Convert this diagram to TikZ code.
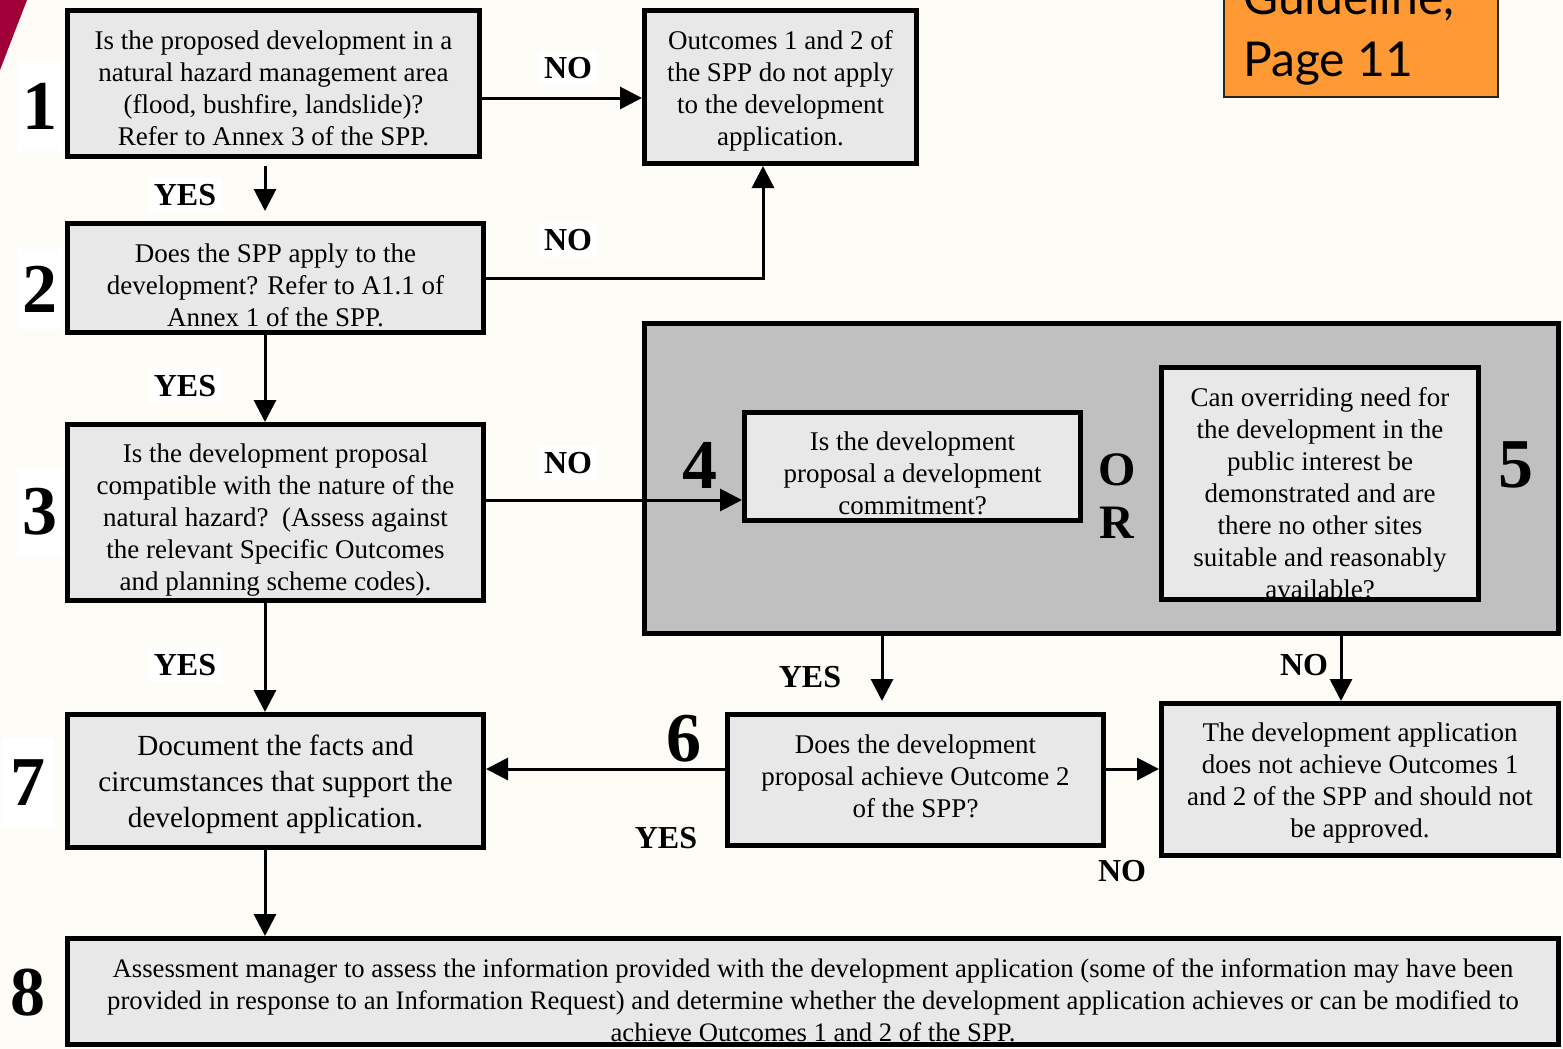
\documentclass[tikz,border=0pt]{standalone}
\usepackage{fontspec}
\setmainfont{Liberation Serif}
\newfontfamily\comicfont{Lato}
\usetikzlibrary{arrows.meta,calc}
\definecolor{bgcream}{RGB}{253,252,246}
\definecolor{boxgray}{RGB}{232,232,232}
\definecolor{panelgray}{RGB}{192,192,192}
\definecolor{guideorange}{RGB}{255,153,51}
\definecolor{crimsonred}{RGB}{160,0,55}
\tikzset{
  qbox/.style={draw=black, line width=2.5pt, fill=boxgray, inner sep=0pt},
  qtext/.style={align=center, inner sep=0pt, font=\fontsize{13.5}{16}\selectfont},
  numlab/.style={font=\bfseries\fontsize{35}{35}\selectfont, inner sep=1pt},
  ynlab/.style={font=\bfseries\fontsize{16}{16}\selectfont, fill=white, inner sep=3pt},
  arr/.style={line width=1.5pt, -{Triangle[length=11pt,width=11pt]}}
}
\begin{document}
\begin{tikzpicture}[x=0.5pt,y=-0.5pt]
\useasboundingbox (0,0) rectangle (1563,1049);
\fill[bgcream] (0,0) rectangle (1563,1049);
\fill[crimsonred] (0,0) -- (27,0) -- (0,70) -- cycle;

% column coordinates
\coordinate (colx) at (265,0);
\coordinate (c882) at (882,0);
\coordinate (c1341) at (1341,0);

% step numbers with white patches (drawn first)
\node[numlab, fill=white, minimum width=23pt, minimum height=45pt] (n1) at (40,106) {1};
\node[numlab, fill=white, minimum width=23pt, minimum height=40pt] (n2) at (40,289) {2};
\node[numlab, fill=white, minimum width=23pt, minimum height=45pt] (n3) at (40,512) {3};
\node[numlab, fill=white, minimum width=26pt, minimum height=45pt] (n7) at (28,783) {7};

% orange guideline box
\node[draw=black!85, line width=1pt, fill=guideorange, minimum width=137pt, minimum height=68pt, inner sep=0pt] (guide) at (1361,29) {};
\node[anchor=base west, inner sep=0pt, font=\comicfont\fontsize{24}{24}\selectfont] (gl1) at (1243,14) {Guideline,};
\node[anchor=base west, inner sep=0pt, font=\comicfont\fontsize{24}{24}\selectfont] (gl2) at (1243,76) {Page 11};

% grey panel
\node[draw=black, line width=2.5pt, fill=panelgray, minimum width=457pt, minimum height=155pt, inner sep=0pt] (panel) at (1101.5,478.5) {};

% boxes
\node[qbox, minimum width=206pt, minimum height=73pt] (b1) at (273.5,83.5) {};
\node[qtext] (b1t) at (273.5,88)
  {Is the proposed development in a\\natural hazard management area\\(flood, bushfire, landslide)?\\Refer to Annex 3 of the SPP.};
\node[qbox, minimum width=136pt, minimum height=76.5pt] (out) at (780.5,87) {};
\node[qtext] (outt) at (780.5,91)
  {Outcomes 1 and 2 of\\the SPP do not apply\\to the development\\application.};
\node[qbox, minimum width=208pt, minimum height=54.5pt] (b2) at (275.5,278) {};
\node[qtext] (b2t) at (275.5,285)
  {Does the SPP apply to the\\development? Refer to A1.1 of\\Annex 1 of the SPP.};
\node[qbox, minimum width=208pt, minimum height=88pt] (b3) at (275.5,512.5) {};
\node[qtext] (b3t) at (275.5,520.5)
  {Is the development proposal\\compatible with the nature of the\\natural hazard?~~(Assess against\\the relevant Specific Outcomes\\and planning scheme codes).};
\node[qbox, minimum width=168pt, minimum height=54pt] (b4) at (912.5,466.5) {};
\node[qtext] (b4t) at (912.5,473.5)
  {Is the development\\proposal a development\\commitment?};
\node[qbox, minimum width=158.5pt, minimum height=116pt] (b5) at (1320,483.5) {};
\node[qtext] (b5t) at (1320,493)
  {Can overriding need for\\the development in the\\public interest be\\demonstrated and are\\there no other sites\\suitable and reasonably\\available?};
\node[qbox, minimum width=188pt, minimum height=65.5pt] (b6) at (915.5,780) {};
\node[qtext] (b6t) at (915.5,776)
  {Does the development\\proposal achieve Outcome 2\\of the SPP?};
\node[qbox, minimum width=198.5pt, minimum height=76pt] (da) at (1360,779.5) {};
\node[qtext] (dat) at (1360,782.5)
  {The development application\\does not achieve Outcomes 1\\and 2 of the SPP and should not\\be approved.};
\node[qbox, minimum width=208pt, minimum height=66.5pt] (b7) at (275.5,781) {};
\node[qtext, font=\fontsize{14.6}{18}\selectfont] (b7t) at (275.5,784)
  {Document the facts and\\circumstances that support the\\development application.};
\node[qbox, minimum width=745.5pt, minimum height=53pt] (b8) at (813,991.5) {};
\node[qtext, font=\fontsize{13.35}{16}\selectfont] (b8t) at (813,1000)
  {Assessment manager to assess the information provided with the development application (some of the information may have been\\provided in response to an Information Request) and determine whether the development application achieves or can be modified to\\achieve Outcomes 1 and 2 of the SPP.};

% connectors
\draw[arr] ([yshift=-7.25pt]b1.east) -- ([yshift=-7.25pt]b1.east -| out.west);
\draw[arr] ([yshift=-3.5pt]b1.south -| colx) -- ([yshift=5pt]b2.north -| colx);
\draw[arr] (b2.east) -| ([xshift=-8.75pt]out.south);
\draw[arr] (b2.south -| colx) -- (b3.north -| colx);
\draw[arr] ([yshift=6.25pt]b3.east) -- ([yshift=6.25pt]b3.east -| b4.west);
\draw[arr] (b3.south -| colx) -- (b7.north -| colx);
\draw[arr] (panel.south -| c882) -- ([yshift=5.5pt]b6.north -| c882);
\draw[arr] (panel.south -| c1341) -- (da.north -| c1341);
\draw[arr] ([yshift=5.5pt]b6.west) -- ([yshift=5.5pt]b6.west -| b7.east);
\draw[arr] ([yshift=5.5pt]b6.east) -- ([yshift=5.5pt]b6.east -| da.west);
\draw[arr] (b7.south -| colx) -- (b8.north -| colx);

% yes/no labels
\node[ynlab] (l1) at (568,68) {NO};
\node[ynlab] (l2) at (185,195) {YES};
\node[ynlab] (l3) at (568,240) {NO};
\node[ynlab] (l4) at (185,386) {YES};
\node[ynlab] (l5) at (568,463) {NO};
\node[ynlab] (l6) at (185,665) {YES};
\node[ynlab, fill=none] (l7) at (810,677) {YES};
\node[ynlab, fill=none] (l8) at (1304,665) {NO};
\node[ynlab, fill=none] (l9) at (666,838) {YES};
\node[ynlab, fill=none] (l10) at (1122,871) {NO};

% O R
\node[font=\bfseries\fontsize{24}{24}\selectfont, inner sep=0pt] (or1) at (1117,470) {O};
\node[font=\bfseries\fontsize{24}{24}\selectfont, inner sep=0pt] (or2) at (1117,523) {R};

% remaining step numbers
\node[numlab] (n4) at (700,465) {4};
\node[numlab] (n5) at (1516,465) {5};
\node[numlab] (n6) at (684,739) {6};
\node[numlab] (n8) at (28,993) {8};
\end{tikzpicture}
\end{document}
